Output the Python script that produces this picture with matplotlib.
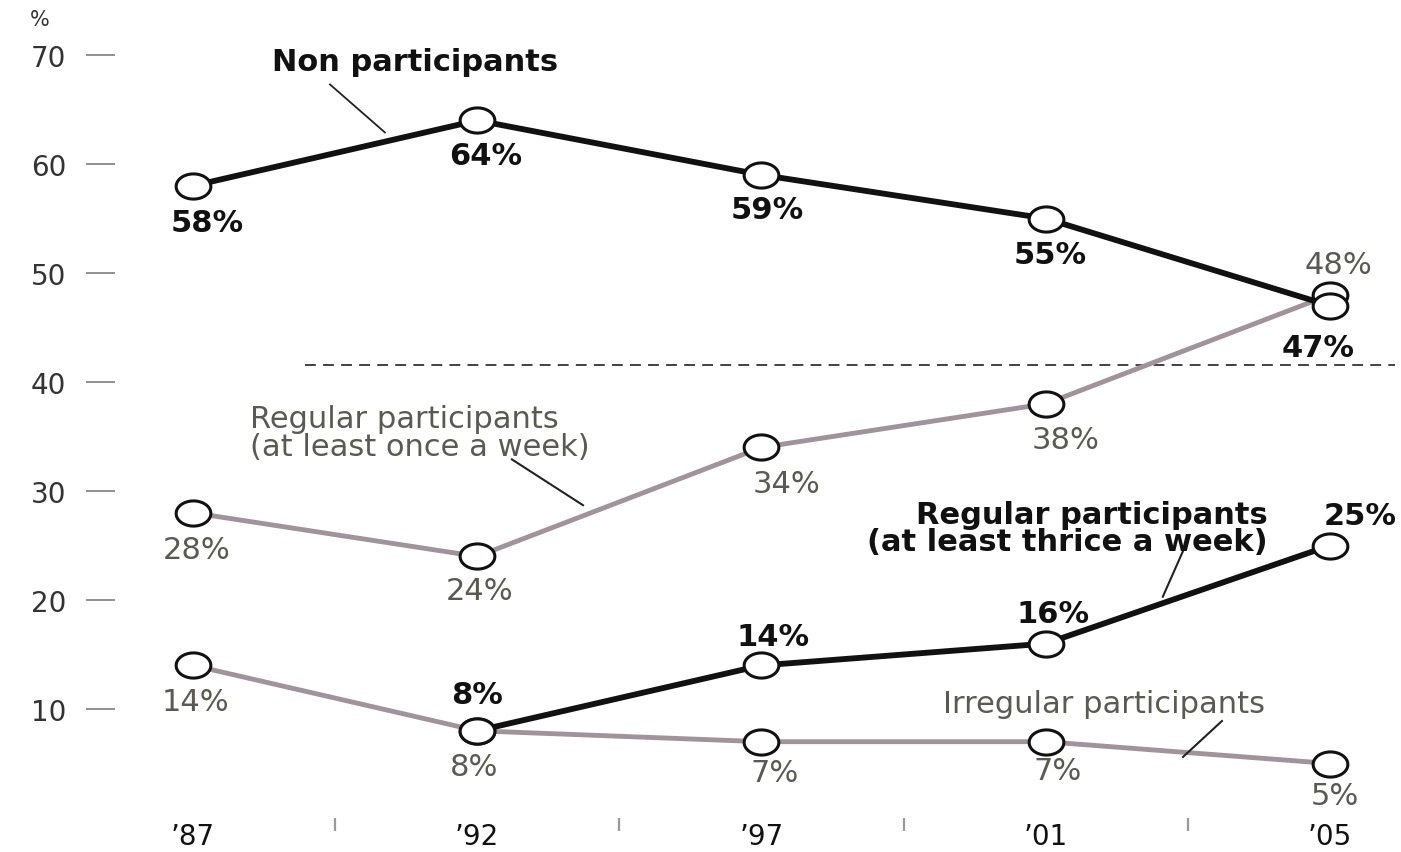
import numpy as np
import matplotlib.pyplot as plt
from matplotlib.path import Path

years = ["\u201987", "\u201992", "\u201997", "\u201901", "\u201905"]
non_part = [58, 64, 59, 55, 47]
reg_once = [28, 24, 34, 38, 48]
reg_thrice = [None, 8, 14, 16, 25]
irregular = [14, 8, 7, 7, 5]
avg_line = 41.6

black = "#111111"
grey_line = "#a0949a"
grey_text = "#5a5a52"

# wide ellipse marker (the scan is stretched sideways)
t = np.linspace(0, 2 * np.pi, 60)
ellipse = Path(np.column_stack([1.38 * np.cos(t), np.sin(t)]), closed=True)

plt.rcParams['font.family'] = ['DejaVu Sans']

fig = plt.figure(figsize=(14.01, 8.53), dpi=100)
ax = fig.add_axes([115 / 1401, 34 / 853, 1286 / 1401, 819 / 853])
x = np.arange(len(years))

ax.set_xlim(-0.2744, 4.25)
ax.set_ylim(0, 75.14)

ax.plot([0.394, 4.23], [avg_line, avg_line], ls=(0, (6, 4)), c="#333333", lw=1.3)

mk = dict(marker=ellipse, ms=25, mfc="white", mec=black, mew=2.2)

ax.plot(x, irregular, c=grey_line, lw=3.5, zorder=2, **mk)
ax.plot(x, reg_once, c=grey_line, lw=3.5, zorder=2, **mk)
xt = x[1:]
ax.plot(xt, reg_thrice[1:], c=black, lw=4.2, zorder=3, **mk)
ax.plot(x, non_part, c=black, lw=4.2, zorder=3, **mk)

FS = 22

def lab(xv, yv, dx, dy, bold, color):
    ax.annotate(f"{yv}%", (xv, yv), xytext=(dx, dy), textcoords="offset pixels",
                ha="center", va="center", fontsize=FS,
                fontweight="bold" if bold else "normal", color=color, zorder=5)

# value labels (pixel offsets from each marker)
non_off = [(14, -37), (8, -35), (6, -35), (4, -36), (-12, -42)]
for i, v in enumerate(non_part):
    lab(x[i], v, *non_off[i], True, black)
once_off = [(4, -37), (2, -34), (25, -36), (20, -36), (8, 30)]
for i, v in enumerate(reg_once):
    lab(x[i], v, *once_off[i], False, grey_text)
thr_off = {1: (0, 36), 2: (12, 29), 3: (7, 30), 4: (30, 30)}
for i, (dx, dy) in thr_off.items():
    lab(x[i], reg_thrice[i], dx, dy, True, black)
irr_off = [(3, -36), (-3, -36), (13, -31), (12, -29), (5, -32)]
for i, v in enumerate(irregular):
    lab(x[i], v, *irr_off[i], False, grey_text)

# series names with leader lines
ax.text(0.781, 69.4, "Non participants", ha="center", va="center",
        fontsize=FS, fontweight="bold", color=black)
ax.plot([0.482, 0.675], [67.3, 62.9], c="#222222", lw=1.3)

ax.text(0.2, 35.4, "Regular participants\n(at least once a week)", ha="left",
        va="center", fontsize=FS, color=grey_text, linespacing=0.95)
ax.plot([1.122, 1.372], [32.9, 28.7], c="#222222", lw=1.5)

ax.text(3.78, 26.6, "Regular participants\n(at least thrice a week)", ha="right",
        va="center", fontsize=FS, fontweight="bold", color=black, linespacing=0.95)
ax.plot([3.490, 3.412], [24.9, 20.3], c="#222222", lw=1.5)

ax.text(3.205, 10.5, "Irregular participants", ha="center", va="center",
        fontsize=FS, color=grey_text)
ax.plot([3.620, 3.483], [8.9, 5.6], c="#222222", lw=1.5)

for s in ax.spines.values():
    s.set_visible(False)

ax.set_yticks(range(10, 80, 10))
ax.tick_params(axis="y", direction="out", length=21, width=1.3, color="#888888",
               pad=14, labelsize=20, labelcolor="#333333")
ax.set_xticks(x)
ax.set_xticklabels(years)
ax.set_xticks(x[:-1] + 0.5, minor=True)
ax.tick_params(axis="x", which="major", length=0, pad=3, labelsize=20,
               labelcolor=black)
ax.tick_params(axis="x", which="minor", direction="out", length=9, width=1.6,
               color="#999999")
fig.text(40 / 1401, 1 - 20 / 853, "%", ha="center", va="center", fontsize=15,
         color="#333333")

fig.savefig("out.png", dpi=100)
